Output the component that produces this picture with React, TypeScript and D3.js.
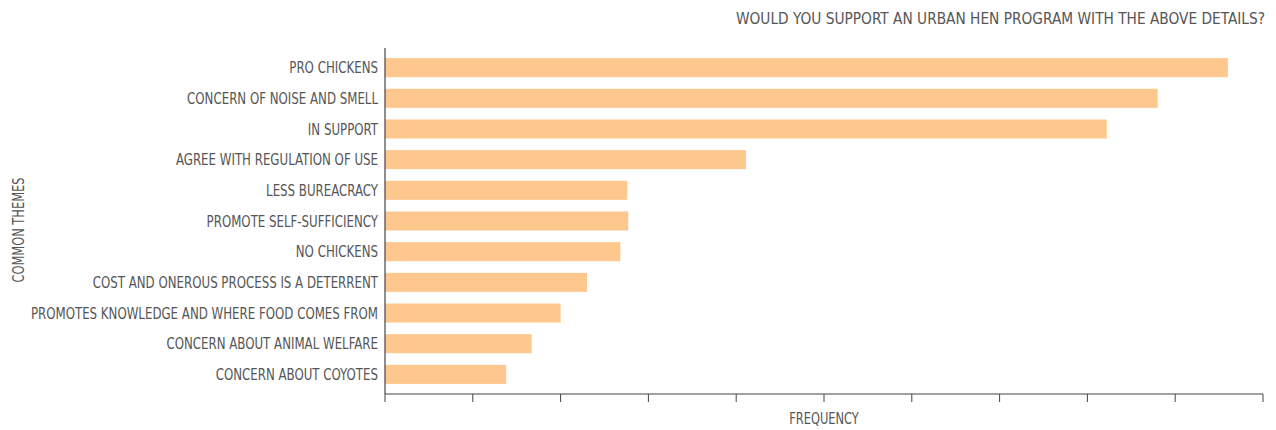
import React from "react";
import * as d3 from "d3";

const categories = [
  "PRO CHICKENS",
  "CONCERN OF NOISE AND SMELL",
  "IN SUPPORT",
  "AGREE WITH REGULATION OF USE",
  "LESS BUREACRACY",
  "PROMOTE SELF-SUFFICIENCY",
  "NO CHICKENS",
  "COST AND ONEROUS PROCESS IS A DETERRENT",
  "PROMOTES KNOWLEDGE AND WHERE FOOD COMES FROM",
  "CONCERN ABOUT ANIMAL WELFARE",
  "CONCERN ABOUT COYOTES",
];
const values = [96, 88, 82.2, 41.1, 27.6, 27.7, 26.8, 23, 20, 16.7, 13.8];
const xTicks = [0, 10, 20, 30, 40, 50, 60, 70, 80, 90, 100];

const W = 1276;
const H = 430;
const FONT = "'DejaVu Sans Condensed', 'DejaVu Sans', sans-serif";
const TEXT = "#555";
const SX = 0.82;

function Label({
  x,
  y,
  anchor,
  size,
  sx,
  rotate = 0,
  children,
}: {
  x: number;
  y: number;
  anchor: string;
  size: number;
  sx: number;
  rotate?: number;
  children: React.ReactNode;
}) {
  return (
    <g transform={`translate(${x},${y}) rotate(${rotate}) scale(${sx},1)`}>
      <text
        x={0}
        y={0}
        textAnchor={anchor as any}
        fontFamily={FONT}
        fontSize={size}
        fill={TEXT}
      >
        {children}
      </text>
    </g>
  );
}

export default function App() {
  const x = d3.scaleLinear().domain([0, 100]).range([385, 1263]);
  const y = d3
    .scaleBand<string>()
    .domain(categories)
    .range([48, 394])
    .paddingInner(0.38)
    .paddingOuter(0.33);
  return (
    <svg
      width={W}
      height={H}
      style={{ position: "absolute", left: 0, top: 0, background: "#fff" }}
    >
      <Label x={1265} y={24} anchor="end" size={16} sx={0.955}>
        WOULD YOU SUPPORT AN URBAN HEN PROGRAM WITH THE ABOVE DETAILS?
      </Label>
      {categories.map((c, i) => (
        <g key={c}>
          <rect
            x={x(0)}
            y={y(c)}
            width={x(values[i]) - x(0)}
            height={y.bandwidth()}
            fill="#FEC78D"
          />
          <Label
            x={378}
            y={(y(c) as number) + y.bandwidth() / 2 + 5.8}
            anchor="end"
            size={16}
            sx={SX}
          >
            {c}
          </Label>
        </g>
      ))}
      <line x1={385} x2={385} y1={48} y2={394} stroke="#444" strokeWidth={1.2} />
      <line x1={385} x2={1263} y1={394} y2={394} stroke="#444" strokeWidth={1.2} />
      {xTicks.map((t) => (
        <line key={t} x1={x(t)} x2={x(t)} y1={394} y2={402} stroke="#444" strokeWidth={1} />
      ))}
      <Label x={824} y={424} anchor="middle" size={15.5} sx={SX}>
        FREQUENCY
      </Label>
      <Label x={24} y={230} anchor="middle" size={15.5} sx={SX} rotate={-90}>
        COMMON THEMES
      </Label>
    </svg>
  );
}
